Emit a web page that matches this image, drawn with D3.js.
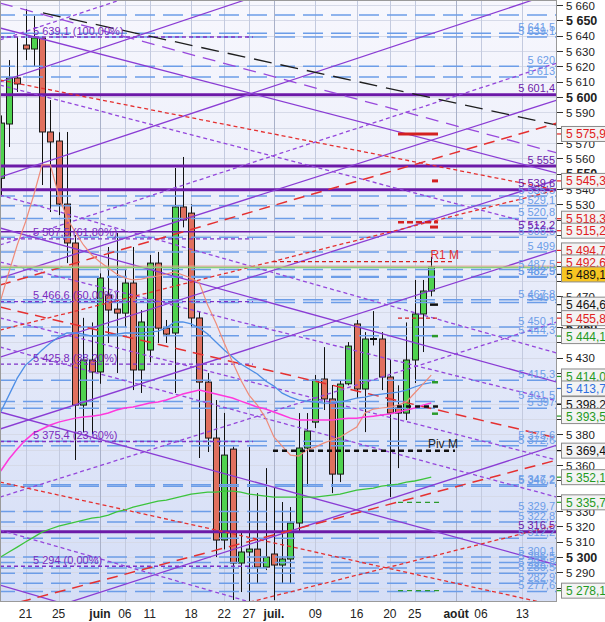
<!DOCTYPE html>
<html><head><meta charset="utf-8">
<script src="https://cdn.jsdelivr.net/npm/d3@7/dist/d3.min.js"></script>
<style>html,body{margin:0;padding:0;background:#fff;}svg{display:block;font-family:"Liberation Sans",Arial,sans-serif;}</style>
</head><body>
<svg id="chart" width="605" height="622"></svg>
<script>
// ---------------- DATA ----------------
const dates = ["2012-05-16","2012-05-17","2012-05-18","2012-05-21","2012-05-22","2012-05-23","2012-05-24","2012-05-25","2012-05-28","2012-05-29","2012-05-30","2012-05-31",
"2012-06-01","2012-06-04","2012-06-05","2012-06-06","2012-06-07","2012-06-08","2012-06-11","2012-06-12","2012-06-13","2012-06-14","2012-06-15","2012-06-18","2012-06-19","2012-06-20","2012-06-21","2012-06-22","2012-06-25","2012-06-26","2012-06-27","2012-06-28","2012-06-29",
"2012-07-02","2012-07-03","2012-07-04","2012-07-05","2012-07-06","2012-07-09","2012-07-10","2012-07-11","2012-07-12","2012-07-13","2012-07-16","2012-07-17","2012-07-18","2012-07-19","2012-07-20","2012-07-23","2012-07-24","2012-07-25","2012-07-26","2012-07-27"];
const open  = [5547,5582.4,5612.4,5633.9,5631.3,5638.5,5577.2,5571.3,5530.2,5504.8,5399.1,5428.5,5420.7,5470.9,5461.7,5459.1,5478.7,5422.0,5435.0,5491.7,5449.3,5446.1,5528.3,5524.3,5455.9,5414.1,5377.6,5311.1,5370.4,5296.1,5303.3,5305.2,5293.5,5302.0,5294.8,5298.7,5322.2,5371.1,5388.0,5416.1,5403.1,5354.1,5413.0,5452.0,5409.6,5442.2,5442.2,5417.4,5397.2,5393.9,5428.5,5458.5,5473.5];
const high  = [5588,5624.1,5639.1,5657.4,5652.8,5639.1,5598.0,5577.0,5577.2,5510.0,5456.0,5453.0,5485.0,5502.2,5511.3,5487.2,5502.2,5461.0,5497.0,5499.0,5454.6,5553.7,5560.9,5530.0,5460.0,5420.0,5402.4,5394.0,5372.0,5315.7,5371.7,5341.7,5358.0,5345.0,5335.9,5332.6,5393.9,5393.9,5418.7,5436.9,5412.2,5415.4,5440.2,5454.6,5446.7,5460.4,5446.7,5428.5,5412.0,5453.0,5480.7,5480.7,5495.7];
const low   = [5535,5567.4,5603.3,5624.1,5620.2,5542.6,5525.0,5523.0,5491.7,5363.3,5381.5,5380.0,5413.0,5439.6,5420.0,5450.0,5408.9,5407.0,5427.0,5439.6,5439.6,5407.0,5515.0,5450.0,5364.6,5368.5,5300.0,5305.0,5272.0,5277.2,5270.0,5283.0,5291.5,5272.0,5283.0,5283.0,5316.0,5345.7,5384.1,5395.9,5341.7,5348.9,5412.0,5403.7,5381.5,5438.0,5408.9,5339.1,5358.0,5389.3,5413.5,5433.7,5470.0];
const close = [5583,5612.4,5608.5,5631.3,5638.5,5577.2,5570.7,5530.2,5504.8,5399.1,5428.5,5420.7,5482.0,5461.1,5459.1,5478.7,5422.0,5453.3,5491.7,5449.3,5445.4,5528.3,5519.8,5455.9,5414.1,5377.6,5311.1,5366.5,5296.1,5303.3,5305.2,5293.5,5300.0,5294.8,5298.7,5322.2,5371.1,5382.2,5415.4,5403.1,5354.1,5412.8,5437.6,5409.6,5442.2,5442.2,5417.4,5393.9,5393.9,5428.5,5458.5,5473.5,5489.1];

const maMagenta = [5356.1,5363.9,5370.4,5376.3,5380.9,5383.5,5386.1,5388.0,5389.3,5390.6,5391.3,5391.9,5392.6,5393.9,5395.9,5397.2,5397.8,5399.1,5400.4,5401.1,5402.4,5404.3,5406.3,5407.6,5408.9,5407.6,5406.3,5405.0,5403.7,5401.7,5399.8,5397.8,5396.5,5394.6,5392.6,5390.6,5389.3,5389.3,5389.3,5389.3,5389.3,5390.0,5390.6,5390.6,5391.3,5391.9,5392.6,5393.3,5394.6,5395.9,5397.2,5399.1,5400.4];
const maBlue = [5394.6,5405.6,5416.7,5425.2,5429.8,5435.0,5439.6,5443.5,5446.1,5446.1,5445.4,5444.1,5444.1,5444.8,5445.4,5446.1,5446.1,5446.1,5446.7,5447.4,5449.3,5453.3,5453.3,5452.0,5449.3,5445.4,5440.2,5435.0,5430.4,5425.9,5422.6,5419.4,5414.8,5411.5,5406.9,5404.3,5402.4,5401.7,5401.1,5400.4,5400.4,5401.1,5402.4,5403.7,5404.3,5405.6,5406.3,5406.9,5407.6,5408.9,5410.9,5412.8,5413.7];
const maSalmon = [5467.6,5485.9,5503.5,5518.5,5536.1,5555.7,5555.7,5536.1,5521.1,5512.0,5503.5,5497.0,5492.4,5488.5,5484.6,5482.0,5480.7,5481.3,5482.6,5483.3,5484.6,5485.9,5483.9,5482.0,5478.7,5464.3,5452.6,5439.6,5427.2,5415.4,5405.6,5399.1,5390.6,5378.3,5372.4,5366.5,5365.9,5369.8,5371.7,5374.3,5376.3,5378.3,5381.5,5384.8,5393.9,5396.5,5397.2,5397.8,5399.1,5401.1,5407.0,5412.8,5418.7];
const maGreen = [5300.0,5303.3,5306.5,5309.8,5313.0,5316.3,5318.3,5320.2,5321.5,5322.8,5324.1,5325.4,5326.1,5327.4,5329.4,5330.7,5332.6,5333.9,5335.2,5336.5,5337.2,5338.5,5339.8,5341.1,5341.7,5342.4,5342.4,5343.0,5343.0,5342.4,5341.1,5340.4,5339.8,5339.1,5339.1,5339.1,5339.1,5339.1,5339.1,5339.8,5340.4,5341.1,5342.4,5343.7,5344.3,5345.0,5346.3,5346.9,5347.6,5348.9,5349.6,5350.9,5352.1];

// x axis: positions in trading-day index (0 = 16 May)
const xTickIndex  = [3,7,12,15,18,23,27,30,33,38,43,47,50,55,58,63];
const xTickLabels = ["21","25","juin","06","11","18","22","27","juil.","09","16","20","25","août","06","13"];
const xTickMonth  = [false,false,true,false,false,false,false,false,true,false,false,false,false,true,false,false];

// y axis ticks
const yTicks = [5280,5290,5300,5310,5320,5330,5340,5350,5360,5370,5380,5390,5400,5410,5420,5430,5440,5450,5460,5470,5480,5490,5500,5510,5520,5530,5540,5550,5560,5570,5580,5590,5600,5610,5620,5630,5640,5650,5660];
const yTicksMajor = [5300,5350,5400,5450,5500,5550,5600,5650];

// horizontal levels
const blueLevels = [5641.5,5639.1,5620,5613,5535.5,5529.1,5520.8,5508.5,5499,5487.5,5482.9,5482.5,5467.8,5466,5450.1,5444.3,5415.3,5401.5,5397,5375.6,5372.6,5347.2,5346.2,5329.7,5322.8,5312.2,5300.1,5296.5,5292.8,5289.5,5282.9,5277.6];
const blueLevelsUnlabeled = [5653.5];
const purpleThickLevels = [5601.4,5555,5539.6,5316.5];
const purpleThinLevels = [5512.2];

// Fibonacci retracement
const fibValues = [5639.1,5507.5,5466.6,5425.8,5375.4,5294];
const fibLabels = ["5 639,1 (100,00%)","5 507,5 (61,80%)","5 466,6 (50,00%)","5 425,8 (38,20%)","5 375,4 (23,60%)","5 294 (0,00%)"];
const fibEndIndex = 30.47;

// trend lines [index1, value1, index2, value2]
const purpleSolid = [[-0.08,5645.0,67.19,5550.4],[-0.08,5514.6,67.19,5414.1],[-0.08,5394.6,67.19,5294.8],[-0.08,5281.7,14.41,5258.9],
  [-0.08,5609.8,29.51,5663.26],[-0.08,5547.8,64.29,5663.26],[-0.08,5481.9,67.19,5598.0],[-0.08,5430.4,67.19,5545.9],[-0.08,5383.5,67.19,5500.2],[-0.08,5256.0,67.19,5373.0]];
const purpleLongDash = [[-0.08,5661.3,67.19,5563.5]];
const blackLongDash = [[5.11,5654.8,67.19,5581.7]];
const purpleDash = [[-0.08,5637.2,14.41,5663.26],[-0.08,5503.5,67.19,5622.2],[-0.08,5339.1,67.19,5453.3],[-0.08,5607.8,67.19,5513.3],
  [-0.08,5536.1,67.19,5433.0],[-0.08,5492.4,67.19,5401.8],[-0.08,5455.9,67.19,5363.3],[-0.08,5437.0,67.19,5339.1],[-0.08,5317.6,30.11,5270.7]];
const redDash = [[-0.08,5611.1,67.19,5539.4],[-0.08,5348.9,65.14,5270.7],[30.11,5270.7,67.19,5320.9],[-0.08,5448.0,67.19,5539.4]];
const redLongDash = [[-0.08,5463.0,67.19,5377.6],[2.34,5270.7,67.19,5363.3],[-0.08,5477.4,67.19,5583.0]];

// short markers [index1, index2, value]
const redSolidMarks = [[47.99,52.82,5575.9],[52.09,52.82,5545.3],[51.85,52.82,5515.2]];
const redDashThickMarks = [[47.99,52.82,5518.3]];
const redDashMarks = [[32.89,54.87,5492.6],[47.99,52.82,5455.8]];
const blackSolidMarks = [[51.85,52.82,5464.6]];
const blackDashMarks = [[47.87,52.82,5398.2],[32.89,54.87,5369.4]];
const greenSolidMarks = [[52.09,52.82,5444.1],[52.09,52.82,5414.0],[52.09,52.82,5393.5]];
const greenDashMarks = [[47.99,53.06,5335.7],[47.99,53.06,5278.1]];
const pivotLabels = ["R1 M","Piv M"];
const pivotValues = [5492.6,5369.4];
const pivotIndex = [51.9,51.6];

const lastPrice = 5489.1;
const boxValues = [5575.9,5545.3,5518.3,5515.2,5494.7,5492.6,5489.1,5464.6,5455.8,5444.1,5414.0,5413.7,5398.2,5393.5,5369.4,5352.1,5335.7,5278.1];
const boxKinds  = ["red","red","red","red","red","red","last","black","red","green","green","blue","black","green","black","green","green","green"];

// ---------------- CHART ----------------
const W = 605, H = 622;
const P = {l:0, t:0, r:557, b:602};
const svg = d3.select("#chart");
const x = d3.scaleLinear().domain([-0.08, 67.19]).range([P.l, P.r]);
const y = d3.scaleLinear().domain([5270.7, 5663.26]).range([P.b, P.t]);
const loc = d3.formatLocale({decimal:",", thousands:"\u00a0", grouping:[3], currency:["",""]});
const fInt = loc.format(",.0f"), fDec = loc.format(",.1f");
const fmt = v => Number.isInteger(v) ? fInt(v) : fDec(v);

const defs = svg.append("defs");
const grad = defs.append("linearGradient").attr("id","bg").attr("x1",0).attr("y1",0).attr("x2",0).attr("y2",1);
grad.append("stop").attr("offset","0%").attr("stop-color","#f7f7fd");
grad.append("stop").attr("offset","100%").attr("stop-color","#d5def6");
defs.append("clipPath").attr("id","clip").append("rect").attr("x",P.l).attr("y",P.t).attr("width",P.r-P.l).attr("height",P.b-P.t);

svg.append("rect").attr("width",W).attr("height",H).attr("fill","#fff");
svg.append("rect").attr("x",P.l).attr("y",P.t).attr("width",P.r-P.l).attr("height",P.b-P.t).attr("fill","url(#bg)");

const g = svg.append("g").attr("clip-path","url(#clip)");

// grid
g.append("g").selectAll("line").data(yTicks).join("line")
  .attr("x1",P.l).attr("x2",P.r).attr("y1",d=>Math.round(y(d))+0.5).attr("y2",d=>Math.round(y(d))+0.5)
  .attr("stroke","#d6dae8").attr("stroke-width",1);
g.append("g").selectAll("line").data(xTickIndex).join("line")
  .attr("x1",d=>Math.round(x(d))+0.5).attr("x2",d=>Math.round(x(d))+0.5).attr("y1",P.t).attr("y2",P.b)
  .attr("stroke",(d,i)=>xTickMonth[i]?"#a9b1c9":"#c3cadf").attr("stroke-width",1);

// candles
const idx = d3.range(dates.length);
const cg = g.append("g");
cg.selectAll("line").data(idx).join("line")
  .attr("x1",i=>Math.round(x(i))+0.5).attr("x2",i=>Math.round(x(i))+0.5)
  .attr("y1",i=>y(high[i])).attr("y2",i=>y(low[i])).attr("stroke","#111").attr("stroke-width",1);
cg.selectAll("rect").data(idx.filter(i=>open[i]!==close[i])).join("rect")
  .attr("x",i=>Math.round(x(i))-2.5).attr("width",6)
  .attr("y",i=>y(Math.max(open[i],close[i]))).attr("height",i=>Math.max(1,Math.abs(y(open[i])-y(close[i]))))
  .attr("fill",i=>close[i]>open[i]?"#4fd24f":"#e0705e").attr("stroke","#1a1a1a").attr("stroke-width",1);
cg.selectAll("line.doji").data(idx.filter(i=>open[i]===close[i])).join("line").attr("class","doji")
  .attr("x1",i=>Math.round(x(i))-3).attr("x2",i=>Math.round(x(i))+4)
  .attr("y1",i=>y(close[i])).attr("y2",i=>y(close[i])).attr("stroke","#111").attr("stroke-width",2);

// blue dashed levels
g.append("g").selectAll("line").data(blueLevels.concat(blueLevelsUnlabeled)).join("line")
  .attr("x1",P.l).attr("x2",P.r).attr("y1",d=>y(d)).attr("y2",d=>y(d))
  .attr("stroke","#6c9de8").attr("stroke-width",1.5).attr("stroke-dasharray","20,8").attr("stroke-dashoffset",5);

// fib
g.append("g").selectAll("line").data(fibValues).join("line")
  .attr("x1",x(-0.08)).attr("x2",x(fibEndIndex)).attr("y1",d=>y(d)).attr("y2",d=>y(d))
  .attr("stroke","#7e32c8").attr("stroke-width",1.4).attr("stroke-dasharray","4,3");

// purple horizontal levels
g.append("g").selectAll("line").data(purpleThickLevels).join("line")
  .attr("x1",P.l).attr("x2",P.r).attr("y1",d=>y(d)).attr("y2",d=>y(d))
  .attr("stroke","#6c1aa8").attr("stroke-width",3);
g.append("g").selectAll("line").data(purpleThinLevels).join("line")
  .attr("x1",P.l).attr("x2",P.r).attr("y1",d=>y(d)).attr("y2",d=>y(d))
  .attr("stroke","#6c1aa8").attr("stroke-width",1.5);

// trend lines
function drawLines(data, color, width, dash){
  g.append("g").selectAll("line").data(data).join("line")
    .attr("x1",d=>x(d[0])).attr("y1",d=>y(d[1])).attr("x2",d=>x(d[2])).attr("y2",d=>y(d[3]))
    .attr("stroke",color).attr("stroke-width",width).attr("stroke-dasharray",dash||null);
}
drawLines(purpleSolid,"#8a3cd4",1.3);
drawLines(purpleLongDash,"#9848dc",1.3,"13,8");
drawLines(purpleDash,"#9446dc",1.3,"4,3");
drawLines(blackLongDash,"#1e1e1e",1.3,"18,9");
drawLines(redDash,"#e53030",1.3,"4,3");
drawLines(redLongDash,"#e53030",1.5,"11,7");

// moving averages
const line = arr => d3.line().x((d,i)=>x(i)).y(d=>y(d))(arr);
g.append("path").attr("d",line(maGreen)).attr("fill","none").attr("stroke","#3cc43c").attr("stroke-width",1.3);
g.append("path").attr("d",line(maBlue)).attr("fill","none").attr("stroke","#4f8fe6").attr("stroke-width",1.3);
g.append("path").attr("d",line(maSalmon)).attr("fill","none").attr("stroke","#ef8c7a").attr("stroke-width",1.2);
g.append("path").attr("d",line(maMagenta)).attr("fill","none").attr("stroke","#ff38dc").attr("stroke-width",1.5);

// last price line
g.append("line").attr("x1",P.l).attr("x2",P.r).attr("y1",y(lastPrice)-1).attr("y2",y(lastPrice)-1).attr("stroke","#eaa08e").attr("stroke-width",1);
g.append("line").attr("x1",P.l).attr("x2",P.r).attr("y1",y(lastPrice)+0.5).attr("y2",y(lastPrice)+0.5).attr("stroke","#8ccf78").attr("stroke-width",1.5);

// markers
function drawMarks(data, color, width, dash){
  g.append("g").selectAll("line").data(data).join("line")
    .attr("x1",d=>x(d[0])).attr("x2",d=>x(d[1])).attr("y1",d=>y(d[2])).attr("y2",d=>y(d[2]))
    .attr("stroke",color).attr("stroke-width",width).attr("stroke-dasharray",dash||null);
}
drawMarks(redDashMarks,"#d42020",1.3,"4,3");
drawMarks(redSolidMarks,"#d42020",3);
drawMarks(redDashThickMarks,"#d42020",2.5,"6,3");
drawMarks(blackSolidMarks,"#111",2.5);
drawMarks(blackDashMarks,"#111",2.5,"5,4");
drawMarks(greenSolidMarks,"#2a9a2a",2.5);
drawMarks(greenDashMarks,"#2a9a2a",1.3,"5,4");

// labels inside plot
const lg = g.append("g").attr("font-size",11);
lg.selectAll("text.fib").data(fibValues).join("text").attr("class","fib")
  .attr("x",33).attr("y",d=>y(d)-2.5).attr("fill","#7a2bbf").text((d,i)=>fibLabels[i]);
lg.selectAll("text.bl").data(blueLevels).join("text").attr("class","bl")
  .attr("x",555).attr("y",d=>y(d)-2).attr("text-anchor","end").attr("fill","#6c9de8").text(d=>fmt(d));
lg.selectAll("text.pl").data(purpleThickLevels.concat(purpleThinLevels)).join("text").attr("class","pl")
  .attr("x",555).attr("y",d=>y(d)-2.5).attr("text-anchor","end").attr("fill","#6c1aa8").text(d=>fmt(d));
lg.selectAll("text.pv").data(pivotValues).join("text").attr("class","pv")
  .attr("x",(d,i)=>x(pivotIndex[i])).attr("y",d=>y(d)-3).attr("font-size",12)
  .attr("fill",(d,i)=>i===0?"#e03030":"#222").text((d,i)=>pivotLabels[i]);

// frame
svg.append("rect").attr("x",P.l+0.5).attr("y",P.t+0.5).attr("width",P.r-P.l-1).attr("height",P.b-P.t-1)
  .attr("fill","none").attr("stroke","#9a9a9a");

// value boxes layout (spread to avoid full overlap)
const boxColor = {red:"#e02020", green:"#1f9a1f", black:"#111", blue:"#2f6fe0", last:"#111"};
const boxes = boxValues.map((v,k)=>({v, kind:boxKinds[k], y:y(v)}));
const sorted = boxes.slice().sort((a,b)=>a.y-b.y);
for(let it=0; it<300; it++){
  for(let k=1;k<sorted.length;k++){
    const d = sorted[k].y - sorted[k-1].y;
    if(d<12){ const s=(12-d)/2; sorted[k].y+=s; sorted[k-1].y-=s; }
  }
}

// y axis (labels fully hidden behind a value box are not drawn)
const visibleTicks = yTicks.filter(t=>!boxes.some(b=>Math.abs(b.y-y(t))<7));
const ya = svg.append("g");
ya.selectAll("line").data(yTicks).join("line")
  .attr("x1",P.r).attr("x2",P.r+6).attr("y1",d=>Math.round(y(d))+0.5).attr("y2",d=>Math.round(y(d))+0.5).attr("stroke","#333");
ya.selectAll("text").data(visibleTicks).join("text")
  .attr("x",P.r+9).attr("y",d=>Math.max(y(d)+4.5,10))
  .attr("font-size",d=>yTicksMajor.includes(d)?12.5:11.5)
  .attr("font-weight",d=>yTicksMajor.includes(d)?"bold":"normal")
  .attr("fill","#222").text(d=>fInt(d));

const order = boxes.filter(b=>b.kind!=="last").concat(boxes.filter(b=>b.kind==="last"));
const bg = svg.append("g").selectAll("g").data(order).join("g");
bg.append("line").attr("x1",P.r).attr("x2",P.r+5).attr("y1",d=>d.y).attr("y2",d=>d.y).attr("stroke",d=>boxColor[d.kind]).attr("stroke-width",1.2);
bg.append("rect").attr("x",P.r+4.5).attr("y",d=>d.y-7.5).attr("width",48).attr("height",15)
  .attr("fill",d=>d.kind==="last"?"#f7c522":"#f3f3f3").attr("stroke","#8a8a8a").attr("stroke-width",1);
bg.append("text").attr("x",P.r+9).attr("y",d=>d.y+4.5).attr("font-size",12)
  .attr("fill",d=>boxColor[d.kind]).text(d=>fDec(d.v));

// x axis
svg.append("g").selectAll("text").data(xTickIndex).join("text")
  .attr("x",d=>x(d)).attr("y",618).attr("text-anchor","middle").attr("font-size",12)
  .attr("font-weight",(d,i)=>xTickMonth[i]?"bold":"normal").attr("fill","#222")
  .text((d,i)=>xTickLabels[i]);
</script>
</body></html>
